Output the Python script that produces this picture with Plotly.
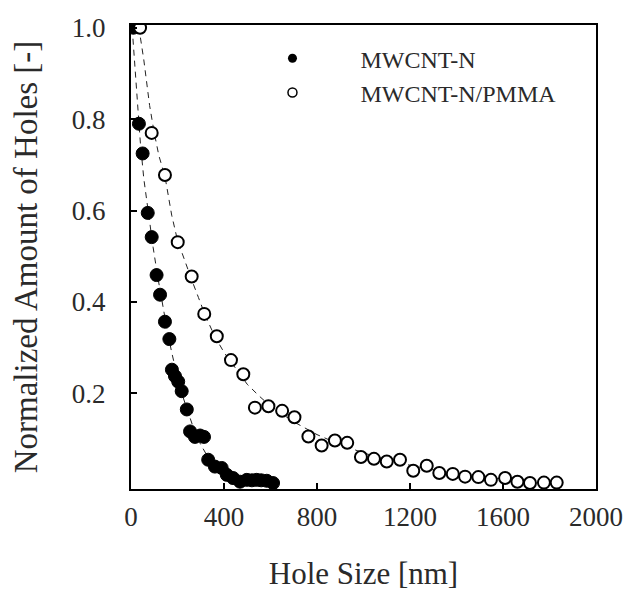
import plotly.graph_objects as go

# MWCNT-N (filled)
n_x = [10, 34, 50, 72, 89, 110, 125, 146, 165, 176, 189, 203, 218, 240, 254, 275, 297, 314,
       332, 361, 390, 412, 439, 469, 498, 520, 540, 560, 584, 611]
n_y = [1.0, 0.79, 0.725, 0.595, 0.542, 0.459, 0.416, 0.357, 0.319, 0.252, 0.238, 0.226, 0.205,
       0.165, 0.117, 0.105, 0.108, 0.105, 0.055, 0.04, 0.037, 0.022, 0.015, 0.007, 0.011, 0.010,
       0.011, 0.010, 0.009, 0.004]
n_fit_x = [5, 15, 25, 40, 55, 75, 95, 115, 135, 155, 175, 200, 225, 250, 275, 300, 325, 350,
           375, 400, 430]
n_fit_y = [1.0, 0.93, 0.84, 0.75, 0.67, 0.59, 0.52, 0.455, 0.395, 0.34, 0.29, 0.235, 0.19,
           0.15, 0.115, 0.088, 0.066, 0.048, 0.035, 0.025, 0.017]

# MWCNT-N/PMMA (open)
p_x = [39, 89, 146, 201, 261, 315, 369, 430, 483, 533, 591, 650, 703, 763, 820, 877, 930,
       989, 1045, 1100, 1157, 1214, 1272, 1326, 1384, 1437, 1494, 1548, 1609, 1662, 1716,
       1776, 1831]
p_y = [1.0, 0.77, 0.678, 0.531, 0.456, 0.374, 0.325, 0.273, 0.242, 0.169, 0.172, 0.162,
       0.148, 0.106, 0.086, 0.097, 0.092, 0.061, 0.057, 0.051, 0.055, 0.031, 0.042, 0.026,
       0.024, 0.018, 0.017, 0.011, 0.015, 0.007, 0.004, 0.005, 0.005]
p_fit_x = [20, 40, 55, 65, 80, 100, 120, 146, 160, 175, 200, 230, 260, 290, 320, 360, 400,
           450, 500, 550, 600, 700, 800, 900, 1000, 1100, 1200, 1300, 1400, 1500, 1600, 1700,
           1800, 1850]
p_fit_y = [1.0, 0.98, 0.93, 0.89, 0.83, 0.77, 0.72, 0.675, 0.635, 0.59, 0.535, 0.49, 0.45,
           0.41, 0.37, 0.325, 0.29, 0.255, 0.22, 0.195, 0.172, 0.138, 0.11, 0.088, 0.07,
           0.055, 0.043, 0.033, 0.025, 0.018, 0.013, 0.009, 0.006, 0.005]

x_ticks = [0, 400, 800, 1200, 1600, 2000]
y_ticks = [0.2, 0.4, 0.6, 0.8, 1.0]

FONT = "Liberation Serif"
TXT = "#2a2a2a"
fig = go.Figure()
dash = "6px,5px"
fig.add_trace(go.Scatter(x=n_fit_x, y=n_fit_y, mode="lines", showlegend=False,
                         line=dict(color="#222", width=1, dash=dash)))
fig.add_trace(go.Scatter(x=p_fit_x, y=p_fit_y, mode="lines", showlegend=False,
                         line=dict(color="#222", width=1, dash=dash)))
fig.add_trace(go.Scatter(x=n_x, y=n_y, mode="markers", showlegend=False,
                         marker=dict(symbol="circle", size=13, color="black",
                                     line=dict(color="black", width=1))))
fig.add_trace(go.Scatter(x=p_x, y=p_y, mode="markers", showlegend=False,
                         marker=dict(symbol="circle", size=12, color="white",
                                     line=dict(color="black", width=2))))
# legend entries
fig.add_trace(go.Scatter(x=[None], y=[None], mode="markers", name="MWCNT-N",
                         marker=dict(symbol="circle", size=9, color="black")))
fig.add_trace(go.Scatter(x=[None], y=[None], mode="markers", name="MWCNT-N/PMMA",
                         marker=dict(symbol="circle", size=9, color="white",
                                     line=dict(color="black", width=1.5))))

axis_common = dict(showline=True, linecolor="black", linewidth=2, mirror=True,
                   ticks="inside", ticklen=6, tickwidth=2, tickcolor="black",
                   showgrid=False, zeroline=False, automargin=False,
                   tickfont=dict(family=FONT, size=27, color=TXT))
fig.update_xaxes(range=[0, 2000], tickvals=x_ticks, ticklabelstandoff=3,
                 title=dict(text="Hole Size [nm]", font=dict(family=FONT, size=31, color=TXT),
                            standoff=31),
                 **axis_common)
fig.update_yaxes(range=[-0.009, 1.006], tickvals=y_ticks, tickformat=".1f",
                 ticklabelstandoff=18,
                 title=dict(text="Normalized Amount of Holes [-]",
                            font=dict(family=FONT, size=33, color=TXT), standoff=26),
                 **axis_common)
# page body has an 8px default margin; the figure is sized and offset for it
fig.update_layout(
    width=629, height=583,
    margin=dict(l=123, r=41, t=17, b=102),
    paper_bgcolor="white", plot_bgcolor="white",
    font=dict(family=FONT, color=TXT),
    legend=dict(x=0.201, y=0.976, xanchor="left", yanchor="top",
                font=dict(family=FONT, size=24, color=TXT),
                itemwidth=126, bgcolor="rgba(0,0,0,0)", tracegroupgap=0),
)
fig.write_html("out.html")
